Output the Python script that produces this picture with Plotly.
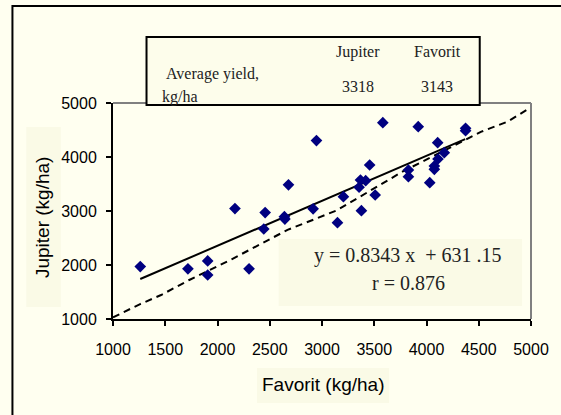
import plotly.graph_objects as go

# ---- data ----
favorit = [1261, 1717, 1906, 1906, 2167, 2302, 2443, 2456, 2640, 2645, 2679,
           2915, 2947, 3148, 3205, 3368, 3418, 3355, 3377, 3456, 3509, 3582,
           3827, 3827, 3921, 4031, 4075, 4075, 4107, 4110, 4170, 4374, 4374]
jupiter = [1970, 1930, 2075, 1815, 3045, 1930, 2667, 2970, 2895, 2850, 3485,
           3040, 4305, 2784, 3265, 3574, 3561, 3440, 3006, 3852, 3296, 4635,
           3759, 3635, 4561, 3524, 3833, 3772, 4265, 3963, 4080, 4531, 4487]

trend_x = [1261, 4370]
trend_y = [1741, 4330]

ref_x = [1000, 1255, 1460, 1730, 2135, 2670, 3140, 3770, 4148, 4525, 4776, 5000]
ref_y = [1030, 1272, 1444, 1722, 2106, 2650, 3010, 3728, 4098, 4469, 4654, 4920]

x_ticks = [1000, 1500, 2000, 2500, 3000, 3500, 4000, 4500, 5000]
y_ticks = [1000, 2000, 3000, 4000, 5000]

table_cols = ["Jupiter", "Favorit"]
table_vals = ["3318", "3143"]
row_label = ["Average yield,", "kg/ha"]
equation = "y = 0.8343 x  + 631 .15"
r_text = "r = 0.876"

# ---- geometry (pixels) ----
W, H = 561, 415
L, R, T, B = 113, 537, 103, 319


def px(x):
    return (x - L) / (R - L)


def py(y):
    return (B - y) / (B - T)


BG = "#FFFFF0"
BOX = "#FAFAE6"
SANS = "Arial, Liberation Sans, sans-serif"
SERIF = "Times New Roman, Liberation Serif, serif"

fig = go.Figure()
fig.add_trace(go.Scatter(x=ref_x, y=ref_y, mode="lines",
                         line=dict(color="black", width=2, dash="7px,5px"),
                         hoverinfo="skip"))
fig.add_trace(go.Scatter(x=trend_x, y=trend_y, mode="lines",
                         line=dict(color="black", width=2), hoverinfo="skip"))
fig.add_trace(go.Scatter(x=favorit, y=jupiter, mode="markers",
                         marker=dict(symbol="diamond", size=9, color="#000080",
                                     line=dict(width=0))))

shapes = [
    dict(type="rect", xref="paper", yref="paper", x0=px(11), x1=px(575),
         y0=py(6), y1=py(430), line=dict(color="black", width=2),
         fillcolor="rgba(0,0,0,0)", layer="below"),
    dict(type="rect", xref="paper", yref="paper", x0=px(25), x1=px(60),
         y0=py(127), y1=py(307), line=dict(width=0), fillcolor=BOX, layer="below"),
    dict(type="rect", xref="paper", yref="paper", x0=px(259), x1=px(393),
         y0=py(368), y1=py(403), line=dict(width=0), fillcolor=BOX, layer="below"),
    dict(type="rect", xref="paper", yref="paper", x0=px(281), x1=px(528),
         y0=py(239), y1=py(306), line=dict(width=0), fillcolor=BOX, layer="below"),
    dict(type="line", xref="paper", yref="paper", x0=0, x1=1, y0=1, y1=1,
         line=dict(color="#808080", width=2)),
    dict(type="line", xref="paper", yref="paper", x0=1, x1=1, y0=0, y1=1,
         line=dict(color="#808080", width=2)),
    dict(type="rect", xref="paper", yref="paper", x0=px(147), x1=px(485),
         y0=py(37), y1=py(105), line=dict(color="black", width=2),
         fillcolor="#FDFDEB"),
]


def note(x, y, text, family, size, xanchor="center", angle=0, color="#222"):
    return dict(x=px(x), y=py(y), text=text, xref="paper", yref="paper",
                xanchor=xanchor, yanchor="middle", showarrow=False,
                textangle=angle, font=dict(family=family, size=size, color=color))


ann = []
for cx, col, val in zip([362, 442], table_cols, table_vals):
    ann.append(note(cx, 52, col, SERIF, 16))
    ann.append(note(cx, 86, val, SERIF, 16))
ann.append(note(165, 74, row_label[0], SERIF, 16, xanchor="left"))
ann.append(note(161, 97, row_label[1], SERIF, 16, xanchor="left"))
ann.append(note(412, 256, equation, SERIF, 20))
ann.append(note(413, 283, r_text, SERIF, 20))
ann.append(note(326, 384, "Favorit (kg/ha)", SANS, 19, color="black"))
ann.append(note(41, 218, "Jupiter (kg/ha)", SANS, 19, angle=-90, color="black"))

fig.update_layout(
    width=W, height=H,
    margin=dict(l=L, r=W - R, t=T, b=H - B),
    paper_bgcolor=BG, plot_bgcolor=BG,
    showlegend=False,
    shapes=shapes, annotations=ann,
    xaxis=dict(range=[1000, 5000], tickvals=x_ticks, ticks="outside", ticklen=5,
               tickwidth=2, tickcolor="black", showline=True, linecolor="black",
               linewidth=2, showgrid=False, zeroline=False,
               tickfont=dict(family=SANS, size=16, color="black"),
               ticklabelstandoff=10),
    yaxis=dict(range=[1000, 5000], tickvals=y_ticks, ticks="outside", ticklen=5,
               tickwidth=2, tickcolor="black", showline=True, linecolor="black",
               linewidth=2, showgrid=False, zeroline=False,
               tickfont=dict(family=SANS, size=16, color="black"),
               ticklabelstandoff=6),
)

fig.write_html("out.html", config={"displayModeBar": False},
               post_script="document.body.style.margin='0';"
                           "document.body.style.background='%s';" % BG)
